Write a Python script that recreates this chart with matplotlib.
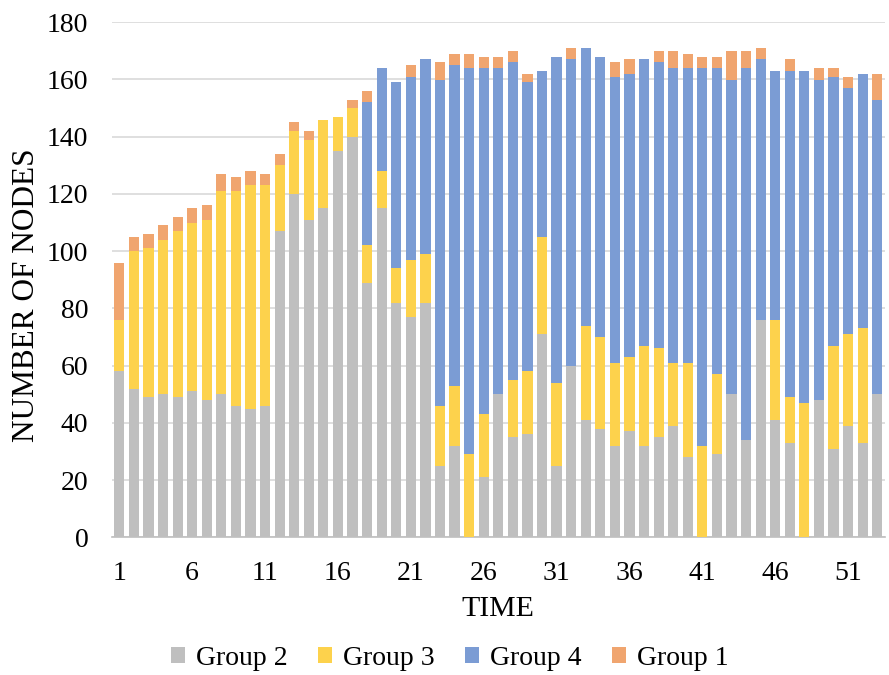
import matplotlib
matplotlib.use('Agg')  # no display
import matplotlib.pyplot as plt
import numpy as np

# Stacked node counts per time step
time = list(range(1, 54))
group2 = [58, 52, 49, 50, 49, 51, 48, 50, 46, 45, 46, 107, 120, 111, 115, 135,
          140, 89, 115, 82, 77, 82, 25, 32, 0, 21, 50, 35, 36, 71, 25, 60, 41,
          38, 32, 37, 32, 35, 39, 28, 0, 29, 50, 34, 76, 41, 33, 0, 48, 31, 39,
          33, 50]
group3 = [18, 48, 52, 54, 58, 59, 63, 71, 75, 78, 77, 23, 22, 28, 31, 12, 10,
          13, 13, 12, 20, 17, 21, 21, 29, 22, 0, 20, 22, 34, 29, 0, 33, 32, 29,
          26, 35, 31, 22, 33, 32, 28, 0, 0, 0, 35, 16, 47, 0, 36, 32, 40, 0]
group4 = [0, 0, 0, 0, 0, 0, 0, 0, 0, 0, 0, 0, 0, 0, 0, 0, 0, 50, 36, 65, 64,
          68, 114, 112, 135, 121, 114, 111, 101, 58, 114, 107, 97, 98, 100, 99,
          100, 100, 103, 103, 132, 107, 110, 130, 91, 87, 114, 116, 112, 94,
          86, 89, 103]
group1 = [20, 5, 5, 5, 5, 5, 5, 6, 5, 5, 4, 4, 3, 3, 0, 0, 3, 4, 0, 0, 4, 0,
          6, 4, 5, 4, 4, 4, 3, 0, 0, 4, 0, 0, 5, 5, 0, 4, 6, 5, 4, 4, 10, 6, 4,
          0, 4, 0, 4, 3, 4, 0, 9]

series = [('Group 2', group2, '#BFBFBF'),
          ('Group 3', group3, '#FDD24C'),
          ('Group 4', group4, '#7B9CD4'),
          ('Group 1', group1, '#F0A56F')]

plt.rcParams['font.family'] = ['Liberation Serif', 'DejaVu Serif']

fig = plt.figure(figsize=(8.89, 6.75), dpi=100)
ax = fig.add_axes([0.126, 0.204, 0.869, 0.763])

bottom = np.zeros(len(time))
for name, vals, col in series:
    vals = np.array(vals, dtype=float)
    ax.bar(time, vals, bottom=bottom, width=0.7, color=col, label=name,
           zorder=3)
    bottom += vals

ax.set_xlim(0.5, 53.5)
ax.set_ylim(0, 180)
ax.set_yticks(range(0, 181, 20))
ax.set_xticks(range(1, 54, 5))
ax.grid(axis='y', color='#D9D9D9', linewidth=1.2, zorder=0)
for s in ['top', 'right', 'left']:
    ax.spines[s].set_visible(False)
ax.spines['bottom'].set_color('#BFBFBF')
ax.spines['bottom'].set_linewidth(1.2)
ax.tick_params(length=0, labelsize=20)
ax.tick_params(axis='x', pad=17)
ax.tick_params(axis='y', pad=17)
ax.set_xlabel('TIME', fontsize=21.5, labelpad=7)
ax.set_ylabel('NUMBER OF NODES', fontsize=22.5)
ax.yaxis.set_label_coords(-0.092, 0.47)

fig.legend(loc='center', bbox_to_anchor=(0.506, 0.025), ncol=4,
           frameon=False, fontsize=20, handlelength=0.5, handleheight=0.5,
           columnspacing=1.1, handletextpad=0.4)

fig.savefig('out.png', dpi=100)
